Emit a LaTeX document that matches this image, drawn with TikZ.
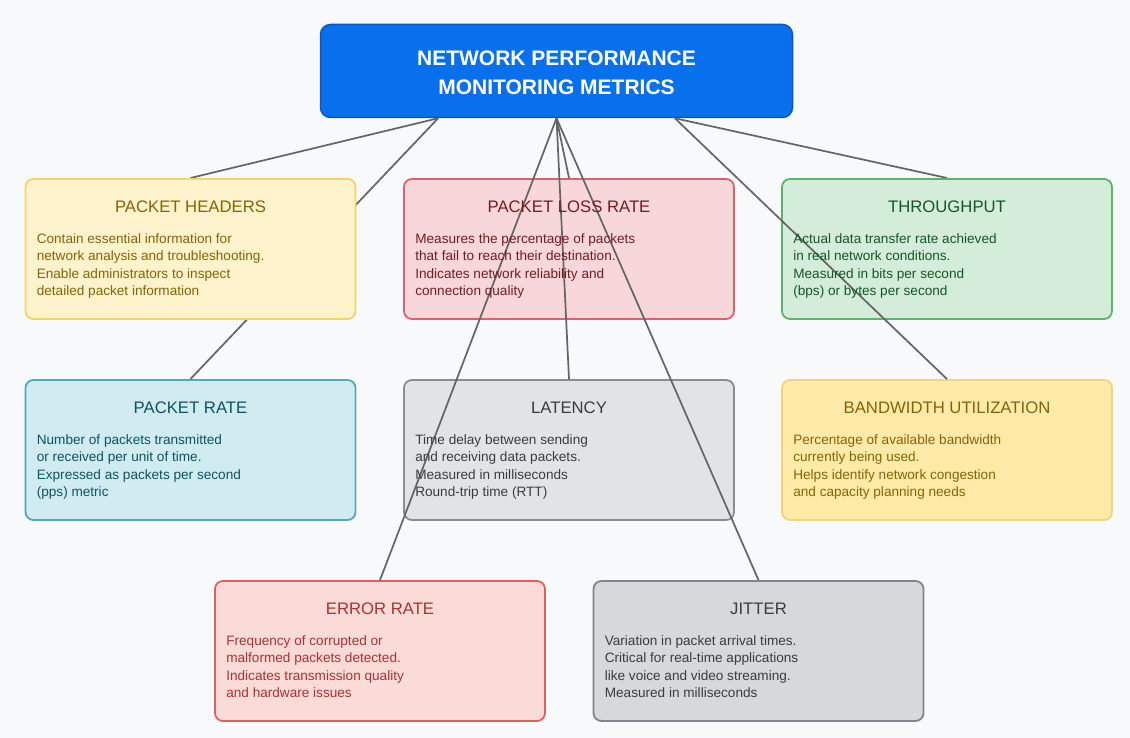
\documentclass[tikz,border=0pt]{standalone}
\usepackage{fontspec}
\setmainfont{Liberation Sans}
\usetikzlibrary{calc}
\definecolor{bgc}{RGB}{248,249,250}
\definecolor{titlefill}{RGB}{8,112,236}
\definecolor{titledraw}{RGB}{10,88,190}
\definecolor{linec}{RGB}{100,100,100}
\definecolor{phfill}{RGB}{255,243,205}\definecolor{phdraw}{RGB}{244,212,100}\definecolor{phtext}{RGB}{133,100,4}
\definecolor{plfill}{RGB}{248,215,218}\definecolor{pldraw}{RGB}{212,100,112}\definecolor{pltext}{RGB}{114,28,36}
\definecolor{tpfill}{RGB}{212,237,218}\definecolor{tpdraw}{RGB}{92,180,104}\definecolor{tptext}{RGB}{21,87,36}
\definecolor{prfill}{RGB}{209,236,241}\definecolor{prdraw}{RGB}{84,168,184}\definecolor{prtext}{RGB}{12,84,96}
\definecolor{ltfill}{RGB}{226,227,229}\definecolor{ltdraw}{RGB}{138,140,142}\definecolor{lttext}{RGB}{56,61,65}
\definecolor{bwfill}{RGB}{255,234,167}\definecolor{bwdraw}{RGB}{240,212,128}\definecolor{bwtext}{RGB}{133,100,4}
\definecolor{erfill}{RGB}{250,219,216}\definecolor{erdraw}{RGB}{218,98,98}\definecolor{ertext}{RGB}{169,50,50}
\definecolor{jtfill}{RGB}{214,216,219}\definecolor{jtdraw}{RGB}{127,134,141}\definecolor{jttext}{RGB}{56,61,65}
\tikzset{
  x=1pt, y=-1pt,
  mbox/.style 2 args={draw=#2, fill=#1, line width=1.8pt, rounded corners=8pt,
    minimum width=330pt, minimum height=140pt, inner sep=0pt},
  mhead/.style={font=\fontsize{16.7}{19}\selectfont, text=#1, inner sep=0pt},
  mbody/.style={font=\fontsize{13.6}{17.6}\selectfont, text=#1, align=left, anchor=north west, inner sep=0pt},
  conn/.style={draw=linec, line width=1.7pt},
}
\begin{document}
\begin{tikzpicture}
\fill[bgc] (0,0) rectangle (1130,738);
\useasboundingbox (0,0) rectangle (1130,738);
% title
\node[draw=titledraw, fill=titlefill, line width=1.5pt, rounded corners=10pt,
  minimum width=472pt, minimum height=93pt, inner sep=0pt] (title) at (556.5,71) {};
\node[text=white, font=\fontsize{21}{29}\selectfont\bfseries, align=center] (titletext) at (556.5,73)
  {NETWORK PERFORMANCE\\MONITORING METRICS};
\coordinate (tl) at ($(title.south west)!0.25!(title.south east)$);
\coordinate (tc) at ($(title.south west)!0.5!(title.south east)$);
\coordinate (tr) at ($(title.south west)!0.75!(title.south east)$);
% box positions (centers)
\coordinate (cph) at (190.5,249);
\coordinate (cpl) at (569,249);
\coordinate (ctp) at (947,249);
\coordinate (cpr) at (190.5,450);
\coordinate (clt) at (569,450);
\coordinate (cbw) at (947,450);
\coordinate (cer) at (380,651);
\coordinate (cjt) at (758.5,651);
% connectors drawn beneath boxes
\path (cph) ++(0,-71) coordinate (phtop);
\path (cpr) ++(0,-71) coordinate (prtop);
\draw[conn] (tl) -- (phtop);
\draw[conn] (tl) -- (prtop);
\path (ctp) ++(0,-71) coordinate (tptop);
\draw[conn] (tr) -- (tptop);
\path (cpl) ++(0,-71) coordinate (pltop);
\draw[conn] (tc) -- (pltop);
% boxes
\node[mbox={phfill}{phdraw}] (ph) at (cph) {};
\node[mbox={plfill}{pldraw}] (pl) at (cpl) {};
\node[mbox={tpfill}{tpdraw}] (tp) at (ctp) {};
\node[mbox={prfill}{prdraw}] (pr) at (cpr) {};
\node[mbox={ltfill}{ltdraw}] (lt) at (clt) {};
\node[mbox={bwfill}{bwdraw}] (bw) at (cbw) {};
\node[mbox={erfill}{erdraw}] (er) at (cer) {};
\node[mbox={jtfill}{jtdraw}] (jt) at (cjt) {};
% connectors drawn over boxes
\draw[conn] (tr) -- (bw.north);
\draw[conn] (tc) -- (lt.north);
\draw[conn] (tc) -- (er.north);
\draw[conn] (tc) -- (jt.north);
% headings
\node[mhead=phtext] (phh) at ($(ph.north)+(0,29)$) {PACKET HEADERS};
\node[mhead=pltext] (plh) at ($(pl.north)+(0,29)$) {PACKET LOSS RATE};
\node[mhead=tptext] (tph) at ($(tp.north)+(0,29)$) {THROUGHPUT};
\node[mhead=prtext] (prh) at ($(pr.north)+(0,29)$) {PACKET RATE};
\node[mhead=lttext] (lth) at ($(lt.north)+(0,29)$) {LATENCY};
\node[mhead=bwtext] (bwh) at ($(bw.north)+(0,29)$) {BANDWIDTH UTILIZATION};
\node[mhead=ertext] (erh) at ($(er.north)+(0,29)$) {ERROR RATE};
\node[mhead=jttext] (jth) at ($(jt.north)+(0,29)$) {JITTER};
% bodies
\node[mbody=phtext] (phb) at ($(ph.north west)+(12,55)$) {Contain essential information for\\network analysis and troubleshooting.\\Enable administrators to inspect\\detailed packet information};
\node[mbody=pltext] (plb) at ($(pl.north west)+(12,55)$) {Measures the percentage of packets\\that fail to reach their destination.\\Indicates network reliability and\\connection quality};
\node[mbody=tptext] (tpb) at ($(tp.north west)+(12,55)$) {Actual data transfer rate achieved\\in real network conditions.\\Measured in bits per second\\(bps) or bytes per second};
\node[mbody=prtext] (prb) at ($(pr.north west)+(12,55)$) {Number of packets transmitted\\or received per unit of time.\\Expressed as packets per second\\(pps) metric};
\node[mbody=lttext] (ltb) at ($(lt.north west)+(12,55)$) {Time delay between sending\\and receiving data packets.\\Measured in milliseconds\\Round-trip time (RTT)};
\node[mbody=bwtext] (bwb) at ($(bw.north west)+(12,55)$) {Percentage of available bandwidth\\currently being used.\\Helps identify network congestion\\and capacity planning needs};
\node[mbody=ertext] (erb) at ($(er.north west)+(12,55)$) {Frequency of corrupted or\\malformed packets detected.\\Indicates transmission quality\\and hardware issues};
\node[mbody=jttext] (jtb) at ($(jt.north west)+(12,55)$) {Variation in packet arrival times.\\Critical for real-time applications\\like voice and video streaming.\\Measured in milliseconds};
\end{tikzpicture}
\end{document}
